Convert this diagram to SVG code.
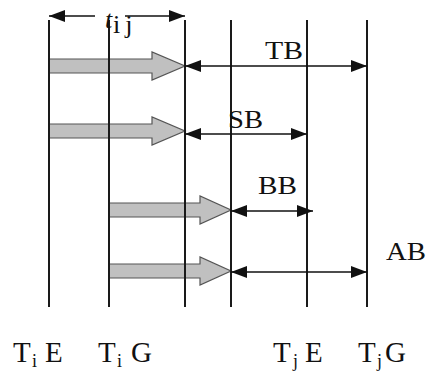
<svg xmlns="http://www.w3.org/2000/svg" width="427" height="372" viewBox="0 0 427 372">
  <style>
    .axis { stroke: #1a1a1a; stroke-width: 2; fill: none; }
    .dim { stroke: #111; stroke-width: 1.5; fill: none; }
    .flow { fill: #c0c0c0; stroke: #555; stroke-width: 1.2; }
    .lbl { font-family: "Liberation Serif", "Times New Roman", serif; font-size: 26px; fill: #111; }
    .tick { font-family: "Liberation Serif", "Times New Roman", serif; font-size: 29px; fill: #111; }
    .sub { font-size: 18px; }
  </style>
  <defs>
    <marker id="head" viewBox="0 0 16 12" refX="16" refY="6" markerWidth="16" markerHeight="12" markerUnits="userSpaceOnUse" orient="auto-start-reverse">
      <path d="M0,0 L16,6 L0,12 Z" fill="#111"/>
    </marker>
  </defs>

  <rect width="427" height="372" fill="#ffffff"/>

  <!-- grey flow arrows (drawn under the time lines) -->
  <g id="flows">
    <path class="flow" d="M49,59 H152 V52 L185,66 L152,80 V73 H49 Z"/>
    <path class="flow" d="M49,124 H152 V117 L185,131 L152,145 V138 H49 Z"/>
    <path class="flow" d="M109,203 H200 V196 L231,210 L200,224 V217 H109 Z"/>
    <path class="flow" d="M109,264 H200 V257 L231,271 L200,285 V278 H109 Z"/>
  </g>

  <!-- time lines with their labels -->
  <g id="TiE">
    <line class="axis" x1="49" y1="20" x2="49" y2="307"/>
    <text class="tick" y="362"><tspan x="13">T</tspan><tspan class="sub" x="32" dy="5">i</tspan><tspan x="45" dy="-5">E</tspan></text>
  </g>
  <g id="TiG">
    <line class="axis" x1="109" y1="20" x2="109" y2="307"/>
    <text class="tick" y="362"><tspan x="98">T</tspan><tspan class="sub" x="117" dy="5">i</tspan><tspan x="131" dy="-5">G</tspan></text>
  </g>
  <g id="line3">
    <line class="axis" x1="185" y1="20" x2="185" y2="307"/>
  </g>
  <g id="line4">
    <line class="axis" x1="231" y1="20" x2="231" y2="307"/>
  </g>
  <g id="TjE">
    <line class="axis" x1="307" y1="20" x2="307" y2="307"/>
    <text class="tick" y="362"><tspan x="273">T</tspan><tspan class="sub" x="293" dy="5">j</tspan><tspan x="305" dy="-5">E</tspan></text>
  </g>
  <g id="TjG">
    <line class="axis" x1="367" y1="20" x2="367" y2="307"/>
    <text class="tick" y="362"><tspan x="358">T</tspan><tspan class="sub" x="377" dy="5">j</tspan><tspan x="385" dy="-5">G</tspan></text>
  </g>

  <!-- dimension arrows -->
  <g id="connectors">
    <line class="dim" x1="95" y1="16" x2="49" y2="16" marker-end="url(#head)"/>
    <line class="dim" x1="125" y1="16" x2="185" y2="16" marker-end="url(#head)"/>
    <line class="dim" x1="185" y1="66" x2="367" y2="66" marker-start="url(#head)" marker-end="url(#head)"/>
    <line class="dim" x1="185" y1="134" x2="307" y2="134" marker-start="url(#head)" marker-end="url(#head)"/>
    <line class="dim" x1="231" y1="211" x2="313" y2="211" marker-start="url(#head)" marker-end="url(#head)"/>
    <line class="dim" x1="231" y1="272" x2="367" y2="272" marker-start="url(#head)" marker-end="url(#head)"/>
  </g>

  <!-- interval labels -->
  <g id="labels">
    <text class="lbl" x="105" y="28" font-style="italic" font-size="22">t</text>
    <text class="lbl" x="113" y="33" font-size="16" letter-spacing="5">ij</text>
    <text class="lbl" x="265" y="59" textLength="38" lengthAdjust="spacingAndGlyphs">TB</text>
    <text class="lbl" x="228" y="128" textLength="35" lengthAdjust="spacingAndGlyphs">SB</text>
    <text class="lbl" x="258" y="194" textLength="39" lengthAdjust="spacingAndGlyphs">BB</text>
    <text class="lbl" x="386" y="260" textLength="40" lengthAdjust="spacingAndGlyphs">AB</text>
  </g>
</svg>
